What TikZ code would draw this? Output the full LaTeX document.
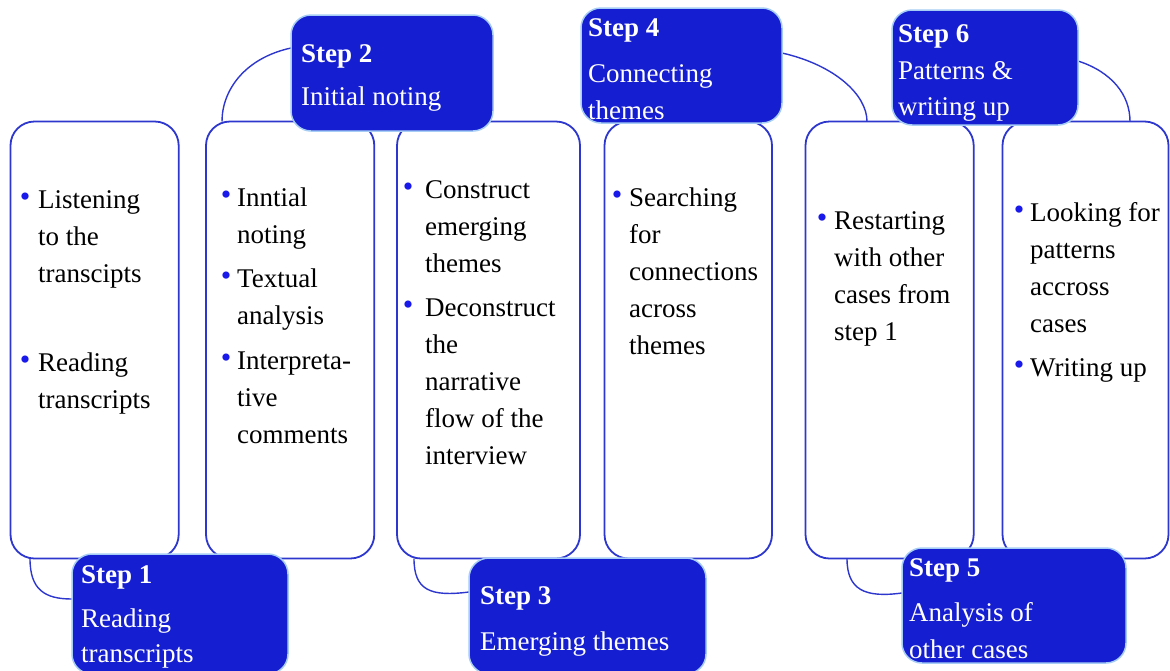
\documentclass[tikz,border=0pt]{standalone}
\usepackage{fontspec}
\setmainfont{Liberation Serif}
\usetikzlibrary{calc}
\definecolor{boxline}{RGB}{45,55,205}
\definecolor{stepfill}{RGB}{22,30,210}
\definecolor{stepline}{RGB}{165,205,245}
\definecolor{bulblue}{RGB}{25,25,235}
\newcommand\bl[1]{\leavevmode\llap{\raisebox{1.5pt}{\fontsize{30}{30}\selectfont\color{bulblue}•}\hspace*{#1pt}}}
\tikzset{
 whitebox/.style={draw=boxline, line width=1.8pt, fill=white, rounded corners=24pt, anchor=north west, inner sep=0pt, outer sep=0pt, minimum height=437pt},
 stepbox/.style={draw=stepline, line width=1.5pt, fill=stepfill, rounded corners=20pt, anchor=north west, inner sep=0pt, outer sep=0pt},
 bodytext/.style={anchor=base west, inner sep=0pt, font=\fontsize{27}{37}\selectfont, text=black},
 steptext/.style={anchor=base west, inner sep=0pt, font=\fontsize{27}{37}\selectfont, text=white},
 link/.style={draw=boxline, line width=1.4pt},
}
\begin{document}
\begin{tikzpicture}[x=1pt,y=-1pt]
\useasboundingbox (0,0) rectangle (1170,670);
\clip (0,0) rectangle (1170,670);
% white boxes
\node[whitebox, minimum width=168.2pt] (b1) at (10.5,121.5) {};
\node[whitebox, minimum width=168.3pt] (b2) at (206,121.5) {};
\node[whitebox, minimum width=183pt] (b3) at (397,121.5) {};
\node[whitebox, minimum width=167.5pt] (b4) at (604.5,121.5) {};
\node[whitebox, minimum width=168.2pt] (b5) at (805.5,121.5) {};
\node[whitebox, minimum width=166pt] (b6) at (1002.5,121.5) {};
% step boxes (nodes defined first for names, drawn after links)
\path (72,554) node[stepbox, draw=none, fill=none, minimum width=216pt, minimum height=120pt] (s1) {};
\path (291,15) node[stepbox, draw=none, fill=none, minimum width=202pt, minimum height=116pt] (s2) {};
\path (469,558) node[stepbox, draw=none, fill=none, minimum width=237pt, minimum height=116pt] (s3) {};
\path (581,8) node[stepbox, draw=none, fill=none, minimum width=201pt, minimum height=115pt] (s4) {};
\path (902,548) node[stepbox, draw=none, fill=none, minimum width=224pt, minimum height=115pt] (s5) {};
\path (892,10) node[stepbox, draw=none, fill=none, minimum width=186pt, minimum height=115pt] (s6) {};
% links
\draw[link] ([yshift=-33pt]s2.north west) .. controls (245,58) and (222,90) .. ([xshift=16pt]b2.north west);
\draw[link] ([yshift=-45pt]s4.north east) .. controls (835,65) and (867,95) .. ([xshift=61.5pt]b5.north west);
\draw[link] ([yshift=-51pt]s6.north east) .. controls (1112,72) and (1130,95) .. ([xshift=127.5pt]b6.north west);
\draw[link] ([xshift=19.5pt]b1.south west) .. controls (30,590) and (45,599) .. ([yshift=-45pt]s1.north west);
\draw[link] ([xshift=17pt]b3.south west) .. controls (414,590) and (430,597) .. ([yshift=-34pt]s3.north west);
\draw[link] ([xshift=41.5pt]b5.south west) .. controls (847,590) and (865,598) .. ([yshift=-45pt]s5.north west);
% visible step boxes
\node[stepbox, minimum width=216pt, minimum height=120pt] (s1v) at (s1.north west) {};
\node[stepbox, minimum width=202pt, minimum height=116pt] (s2v) at (s2.north west) {};
\node[stepbox, minimum width=237pt, minimum height=116pt] (s3v) at (s3.north west) {};
\node[stepbox, minimum width=201pt, minimum height=115pt] (s4v) at (s4.north west) {};
\node[stepbox, minimum width=224pt, minimum height=115pt] (s5v) at (s5.north west) {};
\node[stepbox, minimum width=186pt, minimum height=115pt] (s6v) at (s6.north west) {};
% body texts
\node[bodytext] (t1) at (38,208) {\parbox[t]{200pt}{\raggedright\bl{7.8}Listening\\to the\\transcipts\\[52pt]\bl{7.8}Reading\\transcripts}};
\node[bodytext] (t2) at (237,206) {\parbox[t]{200pt}{\raggedright\bl{5.8}Inntial\\noting\\[7pt]\bl{5.8}Textual\\analysis\\[8pt]\bl{5.8}Interpreta-\\tive\\comments}};
\node[bodytext] (t3) at (425,198) {\parbox[t]{200pt}{\raggedright\bl{11.8}Construct\\emerging\\themes\\[7pt]\bl{11.8}Deconstruct\\the\\narrative\\flow of the\\interview}};
\node[bodytext] (t4) at (629,206) {\parbox[t]{200pt}{\raggedright\bl{6.8}Searching\\for\\connections\\across\\themes}};
\node[bodytext] (t5) at (834,229) {\parbox[t]{200pt}{\raggedright\bl{6.8}Restarting\\with other\\cases from\\step 1}};
\node[bodytext] (t6) at (1030,221) {\parbox[t]{200pt}{\raggedright\bl{5.8}Looking for\\patterns\\accross\\cases\\[7pt]\bl{5.8}Writing up}};
% step texts
\node[steptext] (st1) at (81,583) {\parbox[t]{200pt}{\raggedright\textbf{Step 1}\\[7pt]Reading\\[-2pt]transcripts}};
\node[steptext] (st2) at (301,62) {\parbox[t]{200pt}{\raggedright\textbf{Step 2}\\[6pt]Initial noting}};
\node[steptext] (st3) at (480,604) {\parbox[t]{220pt}{\raggedright\textbf{Step 3}\\[9pt]Emerging themes}};
\node[steptext] (st4) at (588,36) {\parbox[t]{200pt}{\raggedright\textbf{Step 4}\\[9pt]Connecting\\themes}};
\node[steptext] (st5) at (909,576) {\parbox[t]{200pt}{\raggedright\textbf{Step 5}\\[8pt]Analysis of\\other cases}};
\node[steptext] (st6) at (898,42) {\parbox[t]{200pt}{\raggedright\textbf{Step 6}\\[0pt]Patterns \&\\[-1pt]writing up}};
\end{tikzpicture}
\end{document}
